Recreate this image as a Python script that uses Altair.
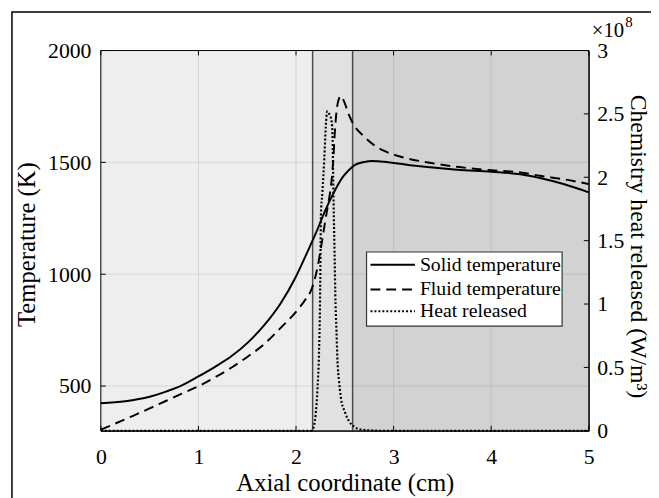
import altair as alt
import pandas as pd

# ---------------- data ----------------
solid_x = [0, 0.25, 0.5, 0.66, 0.83, 1.0, 1.17, 1.34, 1.5, 1.67, 1.84, 2.0, 2.11, 2.21, 2.3,
           2.37, 2.43, 2.48, 2.54, 2.6, 2.7, 2.78, 2.9, 3.0, 3.32, 3.65, 4.0, 4.3, 4.5, 4.75, 5.0]
solid_T = [423, 432, 452, 474, 503, 543, 586, 634, 692, 770, 868, 990, 1093, 1190, 1285,
           1350, 1400, 1435, 1465, 1488, 1502, 1506, 1503, 1497, 1480, 1467, 1458, 1447, 1430, 1402, 1366]

fluid_x = [0, 0.33, 0.5, 0.66, 0.83, 1.0, 1.17, 1.34, 1.5, 1.67, 1.84, 2.0, 2.09, 2.16, 2.19,
           2.22, 2.26, 2.3, 2.34, 2.36, 2.38, 2.4, 2.42, 2.44, 2.46, 2.49, 2.54, 2.6, 2.68, 2.8,
           2.91, 3.1, 3.32, 3.65, 4.0, 4.3, 4.5, 4.75, 5.0]
fluid_T = [305, 367, 400, 432, 466, 499, 539, 583, 630, 686, 759, 832, 883, 934, 975,
           1030, 1130, 1240, 1340, 1400, 1500, 1650, 1745, 1785, 1797, 1775, 1715, 1662, 1623, 1577,
           1550, 1522, 1502, 1480, 1465, 1455, 1440, 1424, 1403]

heat_x = [0, 1, 2, 2.15, 2.17, 2.2, 2.22, 2.235, 2.245, 2.25, 2.255, 2.27, 2.29, 2.305, 2.32,
          2.34, 2.36, 2.37, 2.375, 2.38, 2.385, 2.395, 2.405, 2.415, 2.425, 2.44, 2.46, 2.5,
          2.54, 2.6, 2.66, 2.75, 2.9, 3.5, 4, 5]
heat_q = [0, 0, 0, 0, 0.01, 0.12, 0.33, 0.6, 0.96, 1.3, 1.7, 1.88, 2.15, 2.4, 2.52,
          2.5, 2.46, 2.4, 2.3, 2.05, 1.8, 1.4, 1.0, 0.78, 0.55, 0.4, 0.26, 0.15,
          0.08, 0.03, 0.01, 0.004, 0, 0, 0, 0]

region_start = [0, 2.17, 2.58]
region_end = [2.17, 2.58, 5]
region_fill = ["#eeeeee", "#e1e1e1", "#d2d2d2"]
boundaries = [2.17, 2.58]

x_ticks = [0, 1, 2, 3, 4, 5]
x_grid = [1, 2, 3, 4]
T_ticks = [500, 1000, 1500, 2000]
T_grid = [500, 1000, 1500]
q_ticks = [0, 0.5, 1, 1.5, 2, 2.5, 3]

legend_labels = ["Solid temperature", "Fluid temperature", "Heat released"]
legend_dash = [[1, 0], [10, 6], [2, 2]]
legend_y = [217, 242, 264]

FONT = "Liberation Serif"
W, H = 494, 385
TICK = 5

# ---------------- encodings ----------------
X = alt.X("x:Q", scale=alt.Scale(domain=[0, 5], nice=False, zero=False),
          axis=alt.Axis(values=x_ticks, format="d", title="Axial coordinate (cm)",
                        labelFlush=False, grid=False, ticks=False,
                        labelPadding=16, titlePadding=3))
YT = alt.Y("T:Q", scale=alt.Scale(domain=[300, 2000], nice=False, zero=False),
           axis=alt.Axis(values=T_ticks, format="d", title="Temperature (K)",
                         grid=False, ticks=False, labelPadding=10, titlePadding=8,
                         titleY=196))
YQ = alt.Y("q:Q", scale=alt.Scale(domain=[0, 3], nice=False, zero=False),
           axis=alt.Axis(orient="right", values=q_ticks, format="~g",
                         title="Chemistry heat released (W/m³)",
                         grid=False, ticks=False, labelPadding=8, titlePadding=2,
                         titleFontSize=24, titleY=198))

regions_df = pd.DataFrame({"x": region_start, "x2": region_end, "fill": region_fill})
regions = alt.Chart(regions_df).mark_rect().encode(
    x=X, x2="x2:Q", y=alt.value(0), y2=alt.value(H),
    fill=alt.Fill("fill:N", scale=None))

gridx = alt.Chart(pd.DataFrame({"x": x_grid})).mark_rule(
    color="black", opacity=0.1, strokeWidth=1).encode(x=X, y=alt.value(0), y2=alt.value(H))
gridy = alt.Chart(pd.DataFrame({"T": T_grid})).mark_rule(
    color="black", opacity=0.1, strokeWidth=1).encode(y=YT, x=alt.value(0), x2=alt.value(W))

bounds = alt.Chart(pd.DataFrame({"x": boundaries})).mark_rule(
    color="#4a4a4a", strokeWidth=1.5).encode(x=X, y=alt.value(0), y2=alt.value(H))

# inward ticks (MATLAB style)
xt_df = pd.DataFrame({"x": x_ticks})
xticks_b = alt.Chart(xt_df).mark_rule(color="black", strokeWidth=1).encode(
    x=X, y=alt.value(H - TICK), y2=alt.value(H))
xticks_t = alt.Chart(xt_df).mark_rule(color="black", strokeWidth=1).encode(
    x=X, y=alt.value(0), y2=alt.value(TICK))
tticks = alt.Chart(pd.DataFrame({"T": T_ticks})).mark_rule(color="black", strokeWidth=1).encode(
    y=YT, x=alt.value(0), x2=alt.value(TICK))

solid = alt.Chart(pd.DataFrame({"x": solid_x, "T": solid_T})).mark_line(
    color="black", strokeWidth=2, interpolate="monotone").encode(x=X, y=YT)
fluid = alt.Chart(pd.DataFrame({"x": fluid_x, "T": fluid_T})).mark_line(
    color="black", strokeWidth=2, strokeDash=[10, 6], interpolate="monotone").encode(x=X, y=YT)

left = alt.layer(regions, gridx, gridy, bounds, xticks_b, xticks_t, tticks, solid, fluid)

heat = alt.Chart(pd.DataFrame({"x": heat_x, "q": heat_q})).mark_line(
    color="black", strokeWidth=2.2, strokeDash=[2, 2], interpolate="monotone").encode(x=X, y=YQ)
qticks = alt.Chart(pd.DataFrame({"q": q_ticks})).mark_rule(color="black", strokeWidth=1).encode(
    y=YQ, x=alt.value(W - TICK), x2=alt.value(W))
right = alt.layer(qticks, heat)

# plot box
box = alt.Chart(pd.DataFrame({"a": [0]})).mark_rect(
    fillOpacity=0, stroke="black", strokeWidth=1).encode(
    x=alt.value(0), x2=alt.value(W), y=alt.value(0), y2=alt.value(H))

# outer figure frame
frame = alt.Chart(pd.DataFrame({"a": [0]})).mark_rect(
    fillOpacity=0, stroke="black", strokeWidth=1.5).encode(
    x=alt.value(-90), x2=alt.value(700), y=alt.value(-39), y2=alt.value(700))

# exponent label
expo = alt.Chart(pd.DataFrame({"t": ["×10"]})).mark_text(
    align="left", baseline="alphabetic", fontSize=21, font=FONT, color="black").encode(
    x=alt.value(497), y=alt.value(-14), text="t:N")
expo8 = alt.Chart(pd.DataFrame({"t": ["8"]})).mark_text(
    align="left", baseline="alphabetic", fontSize=15, font=FONT, color="black").encode(
    x=alt.value(531), y=alt.value(-24), text="t:N")

# legend
leg_box = alt.Chart(pd.DataFrame({"a": [0]})).mark_rect(
    fill="white", stroke="#333333", strokeWidth=1.2).encode(
    x=alt.value(269), x2=alt.value(467), y=alt.value(204), y2=alt.value(279))
leg_layers = [leg_box]
for lab, dash, yy in zip(legend_labels, legend_dash, legend_y):
    d = pd.DataFrame({"label": [lab]})
    leg_layers.append(alt.Chart(d).mark_rule(color="black", strokeWidth=2, strokeDash=dash).encode(
        x=alt.value(273), x2=alt.value(318), y=alt.value(yy)))
    leg_layers.append(alt.Chart(d).mark_text(
        align="left", baseline="middle", fontSize=20, font=FONT, color="black").encode(
        x=alt.value(323), y=alt.value(yy), text="label:N"))

chart = alt.layer(left, right, box, frame, expo, expo8, *leg_layers).resolve_scale(
    y="independent"
).properties(
    width=W, height=H,
    autosize=alt.AutoSizeParams(type="none"),
    padding={"left": 94, "top": 40, "right": 63, "bottom": 65},
).configure_view(stroke=None).configure_axis(
    labelFont=FONT, titleFont=FONT, labelFontSize=22, titleFontSize=25,
    labelColor="black", titleColor="black", titleFontWeight="normal",
    domainColor="black", domainWidth=1,
)

chart.save("out.html", embed_options={"renderer": "svg", "actions": False})
